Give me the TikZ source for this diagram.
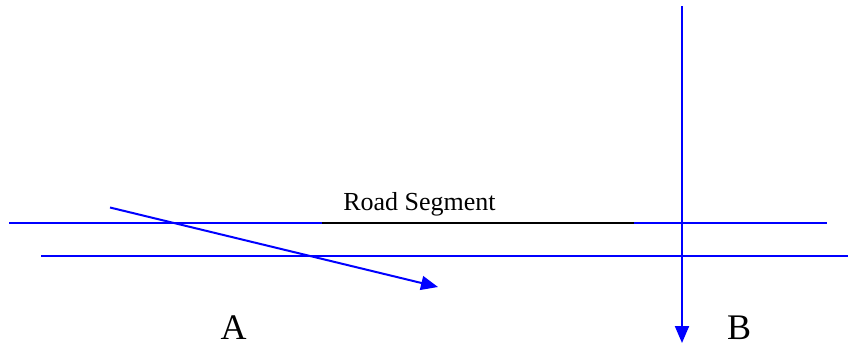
\documentclass[tikz,border=0pt]{standalone}
\usepackage{fontspec}
\setmainfont{Liberation Serif}
\usetikzlibrary{arrows.meta}
\definecolor{roadblue}{RGB}{0,0,255}
\begin{document}
\begin{tikzpicture}[x=1pt,y=-1pt,
  roadline/.style={draw=roadblue,line width=2pt},
  segline/.style={draw=black,line width=1.3pt},
  travel/.style={draw=roadblue,line width=2pt,-{Triangle[length=17pt,width=14pt]}},
  lbl/.style={inner sep=0pt,anchor=base,font=\fontsize{26}{30}\selectfont},
  big/.style={inner sep=0pt,anchor=base,font=\fontsize{36}{40}\selectfont}]
\useasboundingbox (0,0) rectangle (848,346);
% upper edge of the road, with the labelled segment in black
\coordinate (u0) at (9,223);
\coordinate (u1) at (322,223);
\coordinate (u2) at (634,223);
\coordinate (u3) at (827,223);
\draw[roadline] (u0) -- (u1);
\draw[segline] (u1) -- (u2);
\draw[roadline] (u2) -- (u3);
% lower edge of the road
\coordinate (l0) at (41,256);
\coordinate (l1) at (848,256);
\draw[roadline] (l0) -- (l1);
% crossing paths
\coordinate (a0) at (110,207.5);
\coordinate (a1) at (438,287);
\draw[travel] (a0) -- (a1);
\coordinate (b0) at (682,6);
\coordinate (b1) at (682,343);
\draw[travel] (b0) -- (b1);
% labels
\node[lbl] (seg) at (419.5,210) {Road Segment};
\node[big] (A) at (233.5,339) {A};
\node[big] (B) at (739,339) {B};
\end{tikzpicture}
\end{document}
